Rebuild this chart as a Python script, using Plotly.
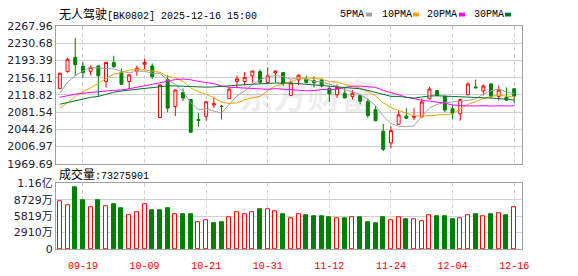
import plotly.graph_objects as go

# ---------------- data ----------------
dates = ["09-16", "09-17", "09-18", "09-19", "09-22", "09-23", "09-24", "09-25", "09-26", "09-29",
         "09-30", "10-09", "10-10", "10-13", "10-14", "10-15", "10-16", "10-17", "10-20", "10-21",
         "10-22", "10-23", "10-24", "10-27", "10-28", "10-29", "10-30", "10-31", "11-03", "11-04",
         "11-05", "11-06", "11-07", "11-10", "11-11", "11-12", "11-13", "11-14", "11-17", "11-18",
         "11-19", "11-20", "11-21", "11-24", "11-25", "11-26", "11-27", "11-28", "12-01", "12-02",
         "12-03", "12-04", "12-05", "12-08", "12-09", "12-10", "12-11", "12-12", "12-15", "12-16"]

opens = [2132.7, 2169.1, 2200.0, 2180.8, 2169.8, 2181.5, 2147.8, 2189.0, 2167.7, 2147.8,
         2170.5, 2184.9, 2181.5, 2069.5, 2151.9, 2093.6, 2123.8, 2108.7, 2065.5, 2072.3,
         2096.9, 2094.3, 2110.7, 2148.1, 2147.8, 2160.2, 2169.1, 2145.7, 2166.4, 2167.0,
         2117.8, 2151.3, 2152.5, 2149.5, 2151.9, 2132.7, 2119.0, 2122.4, 2115.5, 2117.6,
         2103.9, 2086.7, 2040.0, 2014.6, 2055.1, 2073.0, 2070.2, 2070.9, 2110.7, 2127.9,
         2115.5, 2088.8, 2077.8, 2119.0, 2136.1, 2127.2, 2142.3, 2115.5, 2113.5, 2131.9]
highs = [2167.0, 2199.3, 2242.6, 2189.7, 2182.8, 2182.8, 2190.4, 2203.4, 2176.0, 2163.6,
         2182.1, 2197.2, 2186.9, 2142.3, 2161.5, 2130.0, 2132.7, 2110.0, 2079.8, 2105.2,
         2113.5, 2097.0, 2136.1, 2160.5, 2168.4, 2171.2, 2173.9, 2178.7, 2171.8, 2167.7,
         2149.9, 2162.9, 2160.2, 2158.8, 2154.6, 2136.1, 2141.6, 2134.8, 2129.3, 2119.0,
         2110.7, 2095.0, 2055.8, 2050.3, 2084.6, 2090.1, 2090.1, 2110.7, 2136.1, 2128.6,
         2116.9, 2097.0, 2110.0, 2146.4, 2151.9, 2141.6, 2144.4, 2139.5, 2134.8, 2133.3]
lows = [2131.0, 2167.0, 2160.2, 2156.0, 2161.5, 2114.2, 2134.8, 2177.3, 2140.9, 2131.3,
        2160.2, 2174.6, 2153.3, 2068.8, 2081.2, 2072.9, 2105.2, 2036.6, 2050.3, 2062.7,
        2090.1, 2065.4, 2110.0, 2133.7, 2139.5, 2145.0, 2143.0, 2145.0, 2145.0, 2138.2,
        2117.1, 2139.5, 2143.5, 2135.0, 2134.8, 2103.2, 2112.1, 2111.4, 2108.7, 2098.3,
        2068.8, 2062.0, 1996.8, 2003.6, 2054.0, 2066.8, 2064.1, 2070.2, 2108.7, 2115.5,
        2081.2, 2066.1, 2062.7, 2118.3, 2133.4, 2117.6, 2112.1, 2106.6, 2106.6, 2100.4]
closes = [2165.7, 2195.9, 2184.2, 2167.0, 2178.7, 2160.2, 2189.0, 2180.1, 2141.6, 2162.2,
          2176.6, 2189.0, 2158.1, 2140.2, 2090.1, 2129.3, 2112.1, 2037.9, 2063.5, 2103.9,
          2099.6, 2093.6, 2131.3, 2153.6, 2156.7, 2170.5, 2146.4, 2160.2, 2170.5, 2142.9,
          2144.6, 2161.5, 2146.0, 2145.0, 2138.2, 2121.0, 2134.8, 2112.1, 2122.4, 2105.2,
          2074.3, 2062.7, 2000.9, 2041.4, 2075.7, 2068.2, 2071.6, 2103.2, 2131.3, 2117.6,
          2086.0, 2079.2, 2108.7, 2142.3, 2134.1, 2138.2, 2115.5, 2129.3, 2107.3, 2116.2]

volumes = [84350000, 77600000, 108500000, 86600000, 74200000, 86600000, 75900000, 79300000, 71400000, 59000000,
           65800000, 79300000, 68000000, 68000000, 72500000, 62400000, 60700000, 62400000, 47200000, 50600000,
           45500000, 47200000, 55700000, 65800000, 62400000, 65800000, 69700000, 70850000, 67500000, 60700000,
           54000000, 62400000, 59000000, 57400000, 57400000, 55700000, 54000000, 54000000, 55700000, 55700000,
           47200000, 45500000, 55700000, 50600000, 55700000, 52300000, 52300000, 48900000, 59000000, 57400000,
           57400000, 52300000, 54000000, 59000000, 60700000, 57400000, 60700000, 64100000, 59000000, 73275901]

ma5 = [2122.4, 2146.4, 2160.2, 2170.5, 2178.3, 2177.2, 2175.8, 2175.0, 2169.9, 2166.6,
       2169.9, 2169.9, 2165.5, 2165.2, 2150.8, 2141.3, 2126.0, 2101.9, 2086.6, 2089.3,
       2083.4, 2079.7, 2098.4, 2116.4, 2127.0, 2141.1, 2151.7, 2157.5, 2160.9, 2158.1,
       2152.9, 2155.9, 2153.1, 2148.0, 2147.1, 2142.3, 2137.0, 2130.2, 2125.7, 2119.1,
       2109.8, 2095.3, 2073.1, 2056.9, 2051.0, 2049.8, 2051.6, 2072.0, 2090.0, 2098.4,
       2101.9, 2103.5, 2104.6, 2106.8, 2110.1, 2120.5, 2127.8, 2131.9, 2124.9, 2121.3]
ma10 = [2090.1, 2101.8, 2115.5, 2125.8, 2134.1, 2143.0, 2154.6, 2163.6, 2167.0, 2172.5,
        2173.6, 2172.9, 2170.3, 2167.6, 2158.7, 2155.6, 2147.9, 2133.7, 2125.9, 2120.1,
        2112.4, 2102.8, 2100.2, 2101.5, 2108.2, 2112.3, 2115.7, 2127.9, 2138.6, 2142.5,
        2147.0, 2153.8, 2155.3, 2154.4, 2152.6, 2147.6, 2146.5, 2141.7, 2136.9, 2133.1,
        2126.1, 2116.2, 2101.7, 2091.3, 2085.1, 2079.8, 2073.5, 2072.6, 2073.5, 2074.7,
        2075.9, 2077.5, 2088.3, 2098.4, 2104.2, 2111.2, 2115.6, 2118.2, 2115.8, 2115.7]
ma20 = [2113.5, 2117.6, 2120.4, 2122.4, 2124.5, 2125.8, 2127.2, 2128.6, 2129.3, 2132.0,
        2134.8, 2138.2, 2141.6, 2145.1, 2149.2, 2152.0, 2153.3, 2151.5, 2148.0, 2146.3,
        2143.0, 2137.8, 2135.2, 2134.5, 2133.4, 2133.9, 2131.8, 2130.8, 2132.3, 2131.3,
        2129.7, 2128.3, 2127.7, 2128.0, 2130.4, 2130.0, 2131.1, 2134.8, 2137.7, 2137.8,
        2136.5, 2135.0, 2128.5, 2122.9, 2118.8, 2113.7, 2110.0, 2107.1, 2105.2, 2103.9,
        2101.0, 2096.8, 2095.0, 2094.8, 2094.6, 2095.5, 2094.5, 2095.4, 2094.6, 2095.2]
ma30 = [2098.4, 2102.5, 2106.6, 2110.7, 2113.5, 2115.5, 2120.4, 2124.5, 2127.2, 2129.3,
        2131.3, 2133.4, 2135.5, 2137.5, 2138.2, 2138.2, 2137.5, 2136.1, 2135.5, 2135.5,
        2136.1, 2136.8, 2138.2, 2139.6, 2140.9, 2142.3, 2143.0, 2143.7, 2144.4, 2145.0,
        2144.3, 2143.2, 2141.9, 2141.2, 2139.8, 2138.5, 2136.7, 2134.4, 2133.8, 2131.9,
        2128.5, 2124.3, 2119.0, 2115.7, 2115.3, 2113.2, 2111.9, 2114.1, 2116.3, 2116.8,
        2116.3, 2115.8, 2115.1, 2114.7, 2114.0, 2112.9, 2111.8, 2110.8, 2108.7, 2107.8]

label_dates = ["09-19", "10-09", "10-21", "10-31", "11-12", "11-24", "12-04", "12-16"]
price_ticks = [1969.69, 2006.97, 2044.26, 2081.54, 2118.82, 2156.11, 2193.39, 2230.68, 2267.96]
vol_ticks = [0, 29100000, 58190000, 87290000, 116400000]
vol_ticktext = ["0", "2910万", "5819万", "8729万", "1.16亿"]
ma_names = ["5PMA", "10PMA", "20PMA", "30PMA"]

title_text = "无人驾驶[BK0802] 2025-12-16 15:00"

# ---------------- styling ----------------
W, H = 578, 276
L, R = 56, 522
RED, GREEN = "#ff0000", "#008000"
ma_colors = ["#a0a0a0", "#f5a300", "#ff00ff", "#00702f"]
GRID = "#d0d0d0"
FRAME = "#a0a0a0"
MONO = "Liberation Mono, Noto Sans CJK SC"


def px_x(p):
    return (p - L) / (R - L)


def px_y(p):
    return (H - p) / H


fig = go.Figure()

fig.add_trace(go.Candlestick(
    x=dates, open=opens, high=highs, low=lows, close=closes,
    increasing=dict(line=dict(color=RED, width=1), fillcolor="white"),
    decreasing=dict(line=dict(color=GREEN, width=1), fillcolor=GREEN),
    whiskerwidth=0, xaxis="x", yaxis="y", hoverinfo="skip",
))

for name, vals, col in zip(ma_names, [ma5, ma10, ma20, ma30], ma_colors):
    fig.add_trace(go.Scatter(x=dates, y=vals, mode="lines", name=name,
                             line=dict(color=col, width=1), xaxis="x", yaxis="y",
                             hoverinfo="skip"))

vol_up = [(closes[i] >= (closes[i - 1] if i > 0 else opens[i])) for i in range(len(closes))]
fig.add_trace(go.Bar(
    x=dates, y=volumes, width=0.52,
    marker=dict(color=["white" if u else GREEN for u in vol_up],
                line=dict(color=[RED if u else GREEN for u in vol_up], width=1)),
    xaxis="x2", yaxis="y2", hoverinfo="skip",
))

xcommon = dict(type="category", range=[-0.5, 60.02], tickmode="array",
               tickvals=label_dates, ticktext=label_dates,
               showgrid=True, gridcolor=GRID, griddash="4px,3px", gridwidth=1,
               showline=True, mirror=True, linecolor=FRAME, linewidth=1,
               ticks="", zeroline=False, fixedrange=True)

fig.update_layout(
    width=W, height=H,
    margin=dict(l=L, r=W - R, t=0, b=0),
    paper_bgcolor="white", plot_bgcolor="white",
    showlegend=False, hovermode=False, boxgap=0.45, bargap=0,
    xaxis=dict(**xcommon, anchor="y", showticklabels=False, rangeslider=dict(visible=False)),
    xaxis2=dict(**xcommon, anchor="y2", showticklabels=True, ticklabelstandoff=7,
                tickfont=dict(family="Liberation Mono", size=10, color=RED)),
    yaxis=dict(domain=[px_y(165.5), px_y(21)], range=[price_ticks[0], price_ticks[-1]],
               tickmode="array", tickvals=price_ticks,
               ticktext=["%.2f" % v for v in price_ticks],
               tickfont=dict(family="DejaVu Sans", size=11, color="#222233"),
               showgrid=True, gridcolor=GRID, gridwidth=1,
               showline=True, mirror=True, linecolor=FRAME, linewidth=1,
               ticks="", zeroline=False, fixedrange=True),
    yaxis2=dict(domain=[px_y(255), px_y(186)], range=[0, vol_ticks[-1]],
                tickmode="array", tickvals=vol_ticks, ticktext=vol_ticktext,
                tickfont=dict(family="DejaVu Sans, Noto Sans CJK SC", size=11, color="#222233"),
                showgrid=True, gridcolor=GRID, gridwidth=1,
                showline=True, mirror=True, linecolor=FRAME, linewidth=1,
                ticks="", zeroline=False, fixedrange=True),
)

annotations = [
    dict(text="<span style='font-size:12px'>无人驾驶</span>" + title_text[4:],
         x=px_x(57), y=px_y(9), xanchor="left", yanchor="middle"),
    dict(text="<span style='font-size:12px'>成交量</span>:%d" % volumes[-1],
         x=px_x(57), y=px_y(177), xanchor="left", yanchor="middle"),
]
legend_x = [338, 380, 425, 472]
square_x = [366, 413, 459, 505]
shapes = []
for name, lx, sx, col in zip(ma_names, legend_x, square_x, ma_colors):
    annotations.append(dict(text=name, x=px_x(lx), y=px_y(9), xanchor="left", yanchor="middle"))
    shapes.append(dict(type="rect", xref="paper", yref="paper",
                       x0=px_x(sx), x1=px_x(sx + 6), y0=px_y(11), y1=px_y(7),
                       fillcolor=col, line=dict(width=0)))
for a in annotations:
    a.update(xref="paper", yref="paper", showarrow=False,
             font=dict(family=MONO, size=10, color="#000000"))

annotations.append(dict(text="<b>东方财富</b>", x=px_x(307), y=px_y(93), xref="paper", yref="paper",
                        showarrow=False, xanchor="center", yanchor="middle",
                        font=dict(family="Noto Sans CJK SC", size=34, color="rgba(120,120,140,0.12)")))

fig.update_layout(annotations=annotations, shapes=shapes)
fig.write_html("out.html")
